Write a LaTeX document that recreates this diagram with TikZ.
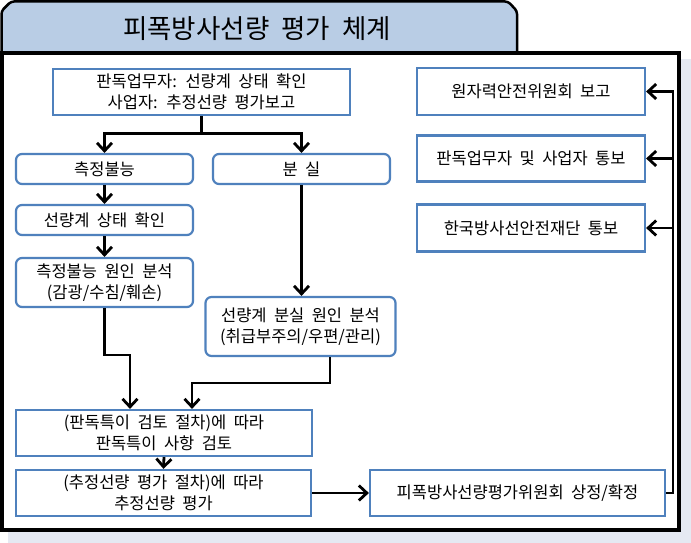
\documentclass[tikz,border=0pt]{standalone}
\usepackage{fontspec}
\setmainfont{Noto Sans CJK KR}[WordSpace=2]
\usetikzlibrary{arrows.meta}
\definecolor{boxblue}{HTML}{4F81BD}
\definecolor{tabblue}{HTML}{B9CDE5}
\definecolor{shadowc}{HTML}{E5E9F2}
\begin{document}
\begin{tikzpicture}[x=1pt,y=-1pt,
  box/.style={draw=boxblue, line width=2.2pt, fill=white, align=center, inner sep=0pt,
    font=\fontsize{16.5}{21}\selectfont},
  rbox/.style={box, rounded corners=6pt},
  conn/.style={line width=2.8pt, -{Straight Barb[length=8pt,width=15pt]}},
  wire/.style={line width=2.8pt}]
\useasboundingbox (0,0) rectangle (691,543);
% shadow and frame
\fill[shadowc] (8,59) rectangle (691,543);
\draw[line width=3.5pt, fill=white] (2,53) rectangle (679,530);
\draw[line width=2.5pt, fill=tabblue, rounded corners=3pt] (1.5,53) -- (1.5,11) -- (11,1.5) -- (508,1.5) -- (517,11) -- (517,53);
\draw[line width=3.5pt] (2,53) -- (679,53);
\node[font=\fontsize{26.5}{30}\selectfont] (title) at (257,29) {피폭방사선량 평가 체계};
% left flow
\node[box, minimum width=297pt, minimum height=46pt] (top) at (201.5,92) {판독업무자: 선량계 상태 확인\\사업자: 추정선량 평가보고};
\node[rbox, minimum width=177pt, minimum height=30pt] (m1) at (104.5,169) {측정불능};
\node[rbox, minimum width=177pt, minimum height=30pt] (m2) at (301.5,169) {분 실};
\node[rbox, minimum width=177pt, minimum height=30pt] (m3) at (104.5,220) {선량계 상태 확인};
\node[rbox, minimum width=177pt, minimum height=49pt] (m4) at (104.5,282.5) {측정불능 원인 분석\\(감광/수침/훼손)};
\node[rbox, minimum width=190pt, minimum height=59pt] (m5) at (300.5,326.5) {선량계 분실 원인 분석\\(취급부주의/우편/관리)};
\node[box, minimum width=296pt, minimum height=46pt] (b1) at (164,433) {(판독특이 검토 절차)에 따라\\판독특이 사항 검토};
\node[box, minimum width=295pt, minimum height=46pt] (b2) at (163.5,493) {(추정선량 평가 절차)에 따라\\추정선량 평가};
\node[box, minimum width=295pt, minimum height=46pt] (b3) at (517.5,493) {피폭방사선량평가위원회 상정/확정};
% right column
\node[box, minimum width=228pt, minimum height=47pt] (r1) at (531,91.5) {원자력안전위원회 보고};
\node[box, minimum width=228pt, minimum height=46pt] (r2) at (531,158.5) {판독업무자 및 사업자 통보};
\node[box, minimum width=228pt, minimum height=47pt] (r3) at (531,228) {한국방사선안전재단 통보};
% connectors
\draw[conn] (top.south) -- ++(0,17) -| (m1.north);
\draw[conn] (top.south) -- ++(0,17) -| (m2.north);
\draw[conn] (m1.south) -- (m3.north);
\draw[conn] (m3.south) -- (m4.north);
\draw[conn] (m2.south) -- (m2.south |- m5.north);
\coordinate (j1) at (130,355);
\draw[conn] (m4.south) |- (j1) -- (j1 |- b1.north);
\coordinate (j2a) at (330,383);
\coordinate (j2b) at (192,383);
\draw[conn] (m5.south -| j2a) -- (j2a) -- (j2b) -- (j2b |- b1.north);
\draw[conn] (b1.south) -- (b2.north);
\draw[conn] (b2.east) -- (b3.west);
\coordinate (rail) at (673,0);
\draw[conn] (b3.east) -| (rail |- r1.east) -- (r1.east);
\draw[conn] (rail |- r2.east) -- (r2.east);
\draw[conn] (rail |- r3.east) -- (r3.east);
\end{tikzpicture}
\end{document}
